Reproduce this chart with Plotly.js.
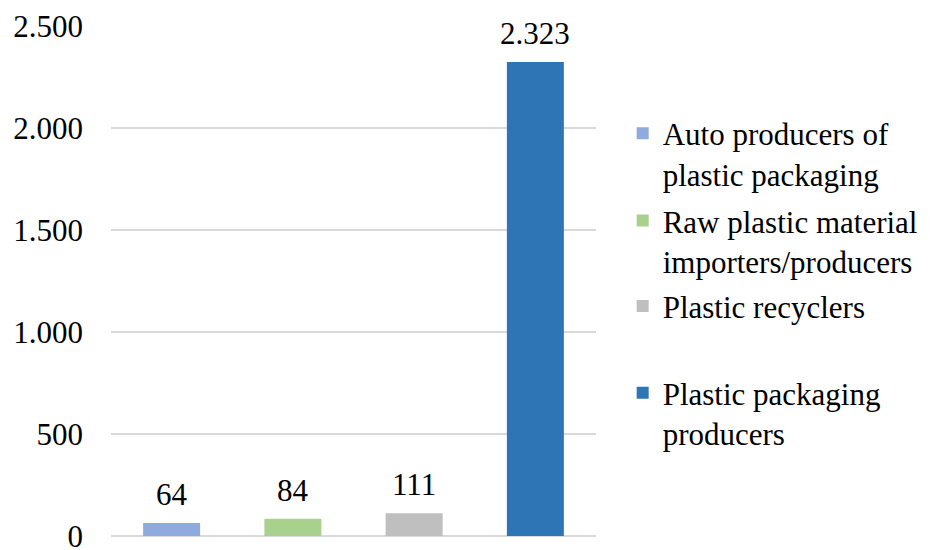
<!DOCTYPE html>
<html>
<head>
<meta charset="utf-8">
<script src="https://cdn.plot.ly/plotly-3.0.1.min.js"></script>
<style>html,body{margin:0;padding:0;background:#fff;}#chart{width:931px;height:550px;}</style>
</head>
<body>
<div id="chart"></div>
<script>
var categories = ["Auto producers of<br>plastic packaging", "Raw plastic material<br>importers/producers", "Plastic recyclers", "Plastic packaging<br>producers"];
var values = [64, 84, 111, 2323];
var yTicks = [0, 500, 1000, 1500, 2000, 2500];

var palette = ["#8FAADC", "#A9D18E", "#BFBFBF", "#2E75B6"];
var legendIds = ["legend", "legend2", "legend3", "legend4"];
var legendY = [0.842, 0.671, 0.503, 0.333];
var FONT = "Liberation Serif, Times New Roman, serif";

function fmt(v) {
  return v >= 1000 ? Math.floor(v / 1000) + "." + String(v % 1000).padStart(3, "0") : String(v);
}

var traces = categories.map(function (c, i) {
  return {
    type: "bar",
    x: [c],
    y: [values[i]],
    name: c,
    legend: legendIds[i],
    marker: {color: palette[i], line: {width: 0}},
    width: 0.47,
    hoverinfo: "y"
  };
});

var annotations = categories.map(function (c, i) {
  return {
    x: c, y: values[i], xref: "x", yref: "y",
    text: fmt(values[i]),
    showarrow: false, yanchor: "bottom", yshift: 9,
    font: {family: FONT, size: 31, color: "#000"}
  };
});

var layout = {
  width: 931, height: 550,
  margin: {l: 111, r: 335, t: 26, b: 14, autoexpand: false},
  paper_bgcolor: "#fff", plot_bgcolor: "#fff",
  separators: ",.",
  barmode: "overlay",
  font: {family: FONT, size: 31, color: "#000"},
  xaxis: {showticklabels: false, showgrid: false, zeroline: false, showline: false, ticks: ""},
  yaxis: {
    range: [0, 2500], tickvals: yTicks, tickformat: ",d",
    showgrid: true, gridcolor: "#D9D9D9", gridwidth: 1.5,
    zeroline: true, zerolinecolor: "#D9D9D9", zerolinewidth: 1.5,
    showline: false, ticks: "", ticklabelstandoff: 27,
    ticklabeloverflow: "allow",
    tickfont: {family: FONT, size: 31, color: "#000"}
  },
  annotations: annotations,
  showlegend: true
};
legendIds.forEach(function (id, i) {
  layout[id] = {
    x: 1.055, xanchor: "left", y: legendY[i], yanchor: "top",
    valign: "top", bgcolor: "rgba(0,0,0,0)",
    font: {family: FONT, size: 31, color: "#000"}
  };
});

Plotly.newPlot("chart", traces, layout, {displayModeBar: false, staticPlot: true});
</script>
</body>
</html>
